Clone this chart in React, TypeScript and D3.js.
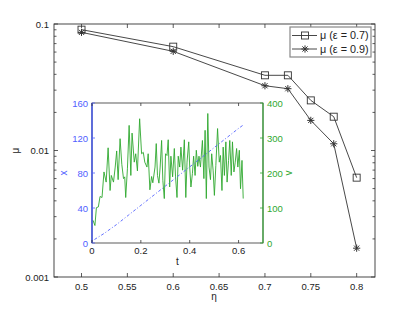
import * as d3 from "d3"

const etas = [0.5, 0.6, 0.7, 0.725, 0.75, 0.775, 0.8]
const muEps07 = [0.0902, 0.0662, 0.0393, 0.0393, 0.0249, 0.0185, 0.0061]
const muEps09 = [0.0859, 0.0608, 0.0325, 0.0308, 0.0173, 0.0113, 0.00169]
const etaTicks = [0.5, 0.55, 0.6, 0.65, 0.7, 0.75, 0.8]
const muTicks = [0.001, 0.01, 0.1]
const legendLabels = ["μ (ε = 0.7)", "μ (ε = 0.9)"]

// inset: position x(t) and speed v(t)
const tBlue = [0.01, 0.05, 0.1, 0.15, 0.2, 0.25, 0.3, 0.35, 0.4, 0.45, 0.5, 0.55, 0.6, 0.62]
const xBlue = [4, 11, 21, 32, 43, 54, 65, 76, 87, 98, 109, 120, 131, 135]
const tGreen = [0.004, 0.012, 0.018, 0.026, 0.033, 0.041, 0.049, 0.058, 0.066, 0.074,
  0.079, 0.088, 0.095, 0.101, 0.107, 0.115, 0.122, 0.129, 0.134, 0.138,
  0.145, 0.152, 0.159, 0.164, 0.173, 0.179, 0.186, 0.195, 0.203, 0.210,
  0.216, 0.225, 0.230, 0.237, 0.244, 0.249, 0.258, 0.263, 0.268, 0.274,
  0.279, 0.285, 0.290, 0.296, 0.301, 0.307, 0.312, 0.318, 0.323, 0.330,
  0.337, 0.342, 0.348, 0.353, 0.359, 0.364, 0.371, 0.378, 0.384, 0.389,
  0.396, 0.400, 0.405, 0.411, 0.416, 0.422, 0.427, 0.433, 0.438, 0.444,
  0.452, 0.458, 0.463, 0.468, 0.474, 0.479, 0.485, 0.490, 0.496, 0.501,
  0.507, 0.514, 0.521, 0.526, 0.532, 0.537, 0.542, 0.548, 0.553, 0.559,
  0.564, 0.570, 0.575, 0.581, 0.586, 0.592, 0.597, 0.603, 0.608, 0.614, 0.619]
const vGreen = [65, 50, 101, 103, 133, 130, 203, 174, 272, 150,
  193, 174, 217, 263, 181, 298, 225, 184, 189, 130,
  212, 336, 193, 314, 231, 255, 206, 355, 255, 259,
  231, 217, 255, 152, 190, 172, 217, 284, 193, 171,
  217, 293, 179, 127, 255, 250, 295, 160, 248, 189,
  270, 189, 130, 248, 217, 274, 208, 295, 130, 231,
  289, 217, 160, 198, 248, 193, 265, 219, 248, 217,
  293, 184, 322, 127, 370, 217, 181, 255, 206, 136,
  222, 327, 231, 250, 150, 274, 193, 289, 174, 236,
  293, 193, 289, 203, 229, 270, 217, 265, 155, 236, 127]
const tTicks = [0, 0.2, 0.4, 0.6]
const xTicks = [0, 40, 80, 120, 160]
const vTicks = [0, 100, 200, 300, 400]

const FONT = "'Liberation Sans', Arial, sans-serif"
const INK = "#333"
const BLUE = "#5060ff"
const GREEN = "#2fa82f"

function Square({ x, y }: { x: number; y: number }) {
  return <rect x={x - 3.5} y={y - 3.5} width={7} height={7} fill="none" stroke={INK} strokeWidth={0.9} />
}

function Star({ x, y }: { x: number; y: number }) {
  const r = 3.6, d = r * 0.72
  const p = `M${x - r},${y}H${x + r}M${x},${y - r}V${y + r}M${x - d},${y - d}L${x + d},${y + d}M${x - d},${y + d}L${x + d},${y - d}`
  return <path d={p} stroke={INK} strokeWidth={1} fill="none" />
}

export default function App() {
  const W = 415, H = 313
  const L = 54, R = 375, T = 24, B = 277
  const x = d3.scaleLinear().domain([0.47, 0.82]).range([L, R])
  const y = d3.scaleLog().domain([0.001, 0.1]).range([B, T])
  const minor = y.ticks()

  const line = d3.line<[number, number]>().x(d => x(d[0])).y(d => y(d[1]))
  const s07 = etas.map((e, i) => [e, muEps07[i]] as [number, number])
  const s09 = etas.map((e, i) => [e, muEps09[i]] as [number, number])

  // inset
  const iL = 92, iR = 263, iT = 103, iB = 243
  const ti = d3.scaleLinear().domain([0, 0.7]).range([iL, iR])
  const xi = d3.scaleLinear().domain([0, 160]).range([iB, iT])
  const vi = d3.scaleLinear().domain([0, 400]).range([iB, iT])
  const blueLine = d3.line<number>().x((_, i) => ti(tBlue[i])).y(d => xi(d))(xBlue) || ""
  const greenLine = d3.line<number>().x((_, i) => ti(tGreen[i])).y(d => vi(d))(vGreen) || ""

  const lg = { x: 290, y: 27, w: 81, h: 30 }

  return (
    <svg width={W} height={H} style={{ position: "absolute", left: 0, top: 0, background: "#fff" }} fontFamily={FONT}>
      {/* main axes box */}
      <rect x={L} y={T} width={R - L} height={B - T} fill="#fff" stroke={INK} strokeWidth={0.9} />
      {etaTicks.map(t => (
        <g key={t}>
          <line x1={x(t)} x2={x(t)} y1={B} y2={B - 4} stroke={INK} strokeWidth={0.8} />
          <line x1={x(t)} x2={x(t)} y1={T} y2={T + 4} stroke={INK} strokeWidth={0.8} />
          <text x={x(t)} y={B + 12.5} fontSize={9.5} textAnchor="middle" fill="#222">{t}</text>
        </g>
      ))}
      {minor.map((m, i) => {
        const major = muTicks.some(v => Math.abs(v - m) < 1e-12)
        const len = major ? 4 : 2.5
        return (
          <g key={i}>
            <line x1={L} x2={L + len} y1={y(m)} y2={y(m)} stroke={INK} strokeWidth={0.8} />
            <line x1={R} x2={R - len} y1={y(m)} y2={y(m)} stroke={INK} strokeWidth={0.8} />
          </g>
        )
      })}
      {muTicks.map(m => (
        <text key={m} x={L - 5} y={y(m) + 3.5} fontSize={9.5} textAnchor="end" fill="#222">{m}</text>
      ))}
      <text x={214} y={300} fontSize={10} textAnchor="middle" fill="#222">η</text>
      <text transform={`translate(19,${y(0.01)}) rotate(-90)`} fontSize={10} textAnchor="middle" fill="#222">μ</text>

      {/* data */}
      <path d={line(s07) || ""} fill="none" stroke={INK} strokeWidth={0.9} />
      <path d={line(s09) || ""} fill="none" stroke={INK} strokeWidth={0.9} />
      {s07.map((d, i) => <Square key={i} x={x(d[0])} y={y(d[1])} />)}
      {s09.map((d, i) => <Star key={i} x={x(d[0])} y={y(d[1])} />)}

      {/* legend */}
      <rect x={lg.x} y={lg.y} width={lg.w} height={lg.h} fill="#fff" stroke="#888" strokeWidth={1.2} />
      {legendLabels.map((lab, i) => {
        const ly = lg.y + 8.5 + i * 13.5
        return (
          <g key={lab}>
            <line x1={lg.x + 2} x2={lg.x + 27} y1={ly} y2={ly} stroke={INK} strokeWidth={0.9} />
            {i === 0 ? <Square x={lg.x + 15} y={ly} /> : <Star x={lg.x + 15} y={ly} />}
            <text x={lg.x + 30} y={ly + 3.8} fontSize={10.8} fill="#222">{lab}</text>
          </g>
        )
      })}

      {/* inset */}
      <rect x={iL} y={iT} width={iR - iL} height={iB - iT} fill="#fff" stroke={INK} strokeWidth={0.8} />
      <path d={greenLine} fill="none" stroke={GREEN} strokeWidth={0.9} />
      <path d={blueLine} fill="none" stroke={BLUE} strokeWidth={0.9} strokeDasharray="3,2,1,2" />
      <line x1={iL} x2={iL} y1={iT} y2={iB} stroke="#1f3aff" strokeWidth={1.1} />
      <line x1={iR} x2={iR} y1={iT} y2={iB} stroke={GREEN} strokeWidth={1.1} />
      {tTicks.map(t => (
        <g key={t}>
          <line x1={ti(t)} x2={ti(t)} y1={iB} y2={iB - 3} stroke={INK} strokeWidth={0.8} />
          <line x1={ti(t)} x2={ti(t)} y1={iT} y2={iT + 3} stroke={INK} strokeWidth={0.8} />
          <text x={ti(t)} y={iB + 11} fontSize={9.5} textAnchor="middle" fill="#222">{t}</text>
        </g>
      ))}
      {xTicks.map(v => (
        <g key={v}>
          <line x1={iL} x2={iL + 3} y1={xi(v)} y2={xi(v)} stroke={BLUE} strokeWidth={0.8} />
          <text x={iL - 4} y={xi(v) + 3.5} fontSize={9.5} textAnchor="end" fill={BLUE}>{v}</text>
        </g>
      ))}
      {vTicks.map(v => (
        <g key={v}>
          <line x1={iR} x2={iR - 3} y1={vi(v)} y2={vi(v)} stroke={GREEN} strokeWidth={0.8} />
          <text x={iR + 4} y={vi(v) + 3.5} fontSize={9.5} textAnchor="start" fill={GREEN}>{v}</text>
        </g>
      ))}
      <text x={ti(0.35)} y={iB + 22} fontSize={10} textAnchor="middle" fill="#222">t</text>
      <text transform={`translate(67,${(iT + iB) / 2}) rotate(-90)`} fontSize={10} textAnchor="middle" fill={BLUE}>x</text>
      <text transform={`translate(292,${(iT + iB) / 2}) rotate(-90)`} fontSize={10} textAnchor="middle" fill={GREEN}>v</text>
    </svg>
  )
}
